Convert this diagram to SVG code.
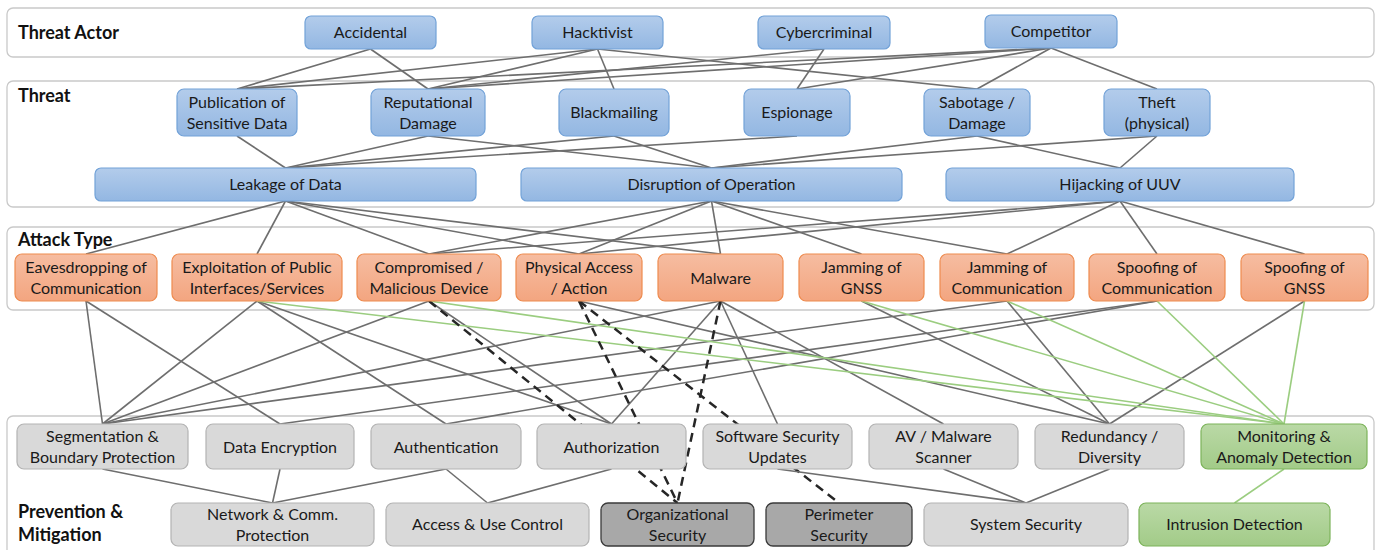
<svg xmlns="http://www.w3.org/2000/svg" width="1377" height="550" viewBox="0 0 1377 550">
<defs>
<linearGradient id="gb" x1="0" y1="0" x2="0" y2="1"><stop offset="0" stop-color="#b3cceb"/><stop offset="1" stop-color="#93b7e2"/></linearGradient>
<linearGradient id="go" x1="0" y1="0" x2="0" y2="1"><stop offset="0" stop-color="#f6bda1"/><stop offset="1" stop-color="#f3a580"/></linearGradient>
<linearGradient id="gg" x1="0" y1="0" x2="0" y2="1"><stop offset="0" stop-color="#bad9a6"/><stop offset="1" stop-color="#a2cb88"/></linearGradient>
<style>
.frame{fill:#fff;stroke:#c9c9c9;stroke-width:1.3}
.blue{fill:url(#gb);stroke:#72a2d8;stroke-width:1.2}
.orange{fill:url(#go);stroke:#ee8b4f;stroke-width:1.2}
.gray{fill:#d9d9d9;stroke:#b3b3b3;stroke-width:1.2}
.dark{fill:#a8a8a8;stroke:#3a3a3a;stroke-width:1.3}
.green{fill:url(#gg);stroke:#7cb35a;stroke-width:1.2}
text{font-family:Lato,"Liberation Sans",sans-serif;font-size:16px;fill:#1a1a1a;text-anchor:middle}
text.lbl{font-weight:bold;font-size:18px;text-anchor:start;fill:#111}
.c line{stroke:#6e6e6e;stroke-width:1.6}
.c line.g{stroke:#9bcd80;stroke-width:1.6}
.c line.d{stroke:#262626;stroke-width:2.5;stroke-dasharray:9 6}
</style>
</defs>

<g id="frames">
<rect class="frame" x="7" y="8" width="1367" height="49" rx="6"/>
<rect class="frame" x="7" y="81" width="1367" height="126" rx="6"/>
<rect class="frame" x="7" y="227" width="1367" height="83" rx="6"/>
<rect class="frame" x="7" y="416" width="1367" height="150" rx="6"/>
<text class="lbl" x="18" y="39">Threat Actor</text>
<text class="lbl" x="18" y="102">Threat</text>
<text class="lbl" x="18" y="246">Attack Type</text>
<text class="lbl" x="18" y="518">Prevention &amp;</text>
<text class="lbl" x="18" y="541">Mitigation</text>
</g>

<g id="connectors" class="c">
<!-- Threat Actor -> Threat -->
<line x1="370.5" y1="49" x2="237" y2="89"/>
<line x1="370.5" y1="49" x2="428" y2="89"/>
<line x1="597.5" y1="49" x2="237" y2="89"/>
<line x1="597.5" y1="49" x2="428" y2="89"/>
<line x1="597.5" y1="49" x2="614" y2="89"/>
<line x1="597.5" y1="49" x2="977" y2="89"/>
<line x1="824" y1="49" x2="428" y2="89"/>
<line x1="824" y1="49" x2="797" y2="89"/>
<line x1="1051" y1="48" x2="237" y2="89"/>
<line x1="1051" y1="48" x2="428" y2="89"/>
<line x1="1051" y1="48" x2="797" y2="89"/>
<line x1="1051" y1="48" x2="977" y2="89"/>
<line x1="1051" y1="48" x2="1157" y2="89"/>
<!-- Threat -> second row -->
<line x1="237" y1="136" x2="285.5" y2="168"/>
<line x1="428" y1="136" x2="285.5" y2="168"/>
<line x1="428" y1="136" x2="711.5" y2="168"/>
<line x1="614" y1="136" x2="285.5" y2="168"/>
<line x1="614" y1="136" x2="711.5" y2="168"/>
<line x1="797" y1="136" x2="285.5" y2="168"/>
<line x1="977" y1="136" x2="711.5" y2="168"/>
<line x1="977" y1="136" x2="1120" y2="168"/>
<line x1="1157" y1="136" x2="711.5" y2="168"/>
<line x1="1157" y1="136" x2="1120" y2="168"/>
<!-- second row -> Attack Type -->
<line x1="285.5" y1="201" x2="86" y2="254"/>
<line x1="285.5" y1="201" x2="257" y2="254"/>
<line x1="285.5" y1="201" x2="429" y2="254"/>
<line x1="285.5" y1="201" x2="579" y2="254"/>
<line x1="285.5" y1="201" x2="720.5" y2="254"/>
<line x1="711.5" y1="201" x2="429" y2="254"/>
<line x1="711.5" y1="201" x2="579" y2="254"/>
<line x1="711.5" y1="201" x2="720.5" y2="254"/>
<line x1="711.5" y1="201" x2="861.5" y2="254"/>
<line x1="711.5" y1="201" x2="1007" y2="254"/>
<line x1="1120" y1="201" x2="429" y2="254"/>
<line x1="1120" y1="201" x2="579" y2="254"/>
<line x1="1120" y1="201" x2="1007" y2="254"/>
<line x1="1120" y1="201" x2="1157" y2="254"/>
<line x1="1120" y1="201" x2="1304.5" y2="254"/>
<!-- Attack Type -> Prevention (gray) -->
<line x1="86" y1="301" x2="102.5" y2="424"/>
<line x1="86" y1="301" x2="280" y2="424"/>
<line x1="257" y1="301" x2="102.5" y2="424"/>
<line x1="257" y1="301" x2="446" y2="424"/>
<line x1="257" y1="301" x2="611.5" y2="424"/>
<line x1="429" y1="301" x2="102.5" y2="424"/>
<line x1="429" y1="301" x2="611.5" y2="424"/>
<line x1="579" y1="301" x2="1109.5" y2="424"/>
<line x1="720.5" y1="301" x2="102.5" y2="424"/>
<line x1="720.5" y1="301" x2="611.5" y2="424"/>
<line x1="720.5" y1="301" x2="777.5" y2="424"/>
<line x1="720.5" y1="301" x2="943.5" y2="424"/>
<line x1="861.5" y1="301" x2="1109.5" y2="424"/>
<line x1="1007" y1="301" x2="102.5" y2="424"/>
<line x1="1007" y1="301" x2="1109.5" y2="424"/>
<line x1="1157" y1="301" x2="280" y2="424"/>
<line x1="1157" y1="301" x2="446" y2="424"/>
<line x1="1304.5" y1="301" x2="1109.5" y2="424"/>
<!-- green -->
<line class="g" x1="257" y1="301" x2="1284" y2="424"/>
<line class="g" x1="429" y1="301" x2="1284" y2="424"/>
<line class="g" x1="861.5" y1="301" x2="1284" y2="424"/>
<line class="g" x1="1007" y1="301" x2="1284" y2="424"/>
<line class="g" x1="1157" y1="301" x2="1284" y2="424"/>
<line class="g" x1="1304.5" y1="301" x2="1284" y2="424"/>
<!-- dashed -->
<line class="d" x1="429" y1="301" x2="677.5" y2="503"/>
<line class="d" x1="579" y1="301" x2="677.5" y2="503"/>
<line class="d" x1="720.5" y1="301" x2="677.5" y2="503"/>
<line class="d" x1="579" y1="301" x2="839" y2="503"/>
<!-- Prevention row1 -> row2 -->
<line x1="102.5" y1="469" x2="272.5" y2="503"/>
<line x1="280" y1="469" x2="272.5" y2="503"/>
<line x1="446" y1="469" x2="272.5" y2="503"/>
<line x1="446" y1="469" x2="487.5" y2="503"/>
<line x1="611.5" y1="469" x2="487.5" y2="503"/>
<line x1="777.5" y1="469" x2="1026" y2="503"/>
<line x1="943.5" y1="469" x2="1026" y2="503"/>
<line x1="1109.5" y1="469" x2="1026" y2="503"/>
<line class="g" x1="1284" y1="469" x2="1234.5" y2="503"/>
</g>

<g id="n-accidental"><rect class="blue" x="305" y="16" width="131" height="33" rx="6"/><text x="370.5" y="38">Accidental</text></g>
<g id="n-hacktivist"><rect class="blue" x="532" y="16" width="131" height="33" rx="6"/><text x="597.5" y="38">Hacktivist</text></g>
<g id="n-cybercriminal"><rect class="blue" x="758" y="16" width="132" height="33" rx="6"/><text x="824" y="38">Cybercriminal</text></g>
<g id="n-competitor"><rect class="blue" x="985" y="15" width="132" height="33" rx="6"/><text x="1051" y="37">Competitor</text></g>

<g id="n-publication"><rect class="blue" x="177" y="89" width="120" height="47" rx="7"/><text x="237" y="108">Publication of</text><text x="237" y="129">Sensitive Data</text></g>
<g id="n-reputational"><rect class="blue" x="371" y="89" width="114" height="47" rx="7"/><text x="428" y="108">Reputational</text><text x="428" y="129">Damage</text></g>
<g id="n-blackmailing"><rect class="blue" x="559" y="89" width="110" height="47" rx="7"/><text x="614" y="118">Blackmailing</text></g>
<g id="n-espionage"><rect class="blue" x="744" y="89" width="106" height="47" rx="7"/><text x="797" y="118">Espionage</text></g>
<g id="n-sabotage"><rect class="blue" x="924" y="89" width="106" height="47" rx="7"/><text x="977" y="108">Sabotage /</text><text x="977" y="129">Damage</text></g>
<g id="n-theft"><rect class="blue" x="1104" y="89" width="106" height="47" rx="7"/><text x="1157" y="108">Theft</text><text x="1157" y="129">(physical)</text></g>

<g id="n-leakage"><rect class="blue" x="95" y="168" width="381" height="33" rx="6"/><text x="285.5" y="190">Leakage of Data</text></g>
<g id="n-disruption"><rect class="blue" x="521" y="168" width="381" height="33" rx="6"/><text x="711.5" y="190">Disruption of Operation</text></g>
<g id="n-hijacking"><rect class="blue" x="946" y="168" width="348" height="33" rx="6"/><text x="1120" y="190">Hijacking of UUV</text></g>

<g id="n-eavesdropping"><rect class="orange" x="15" y="254" width="142" height="47" rx="7"/><text x="86" y="273">Eavesdropping of</text><text x="86" y="294">Communication</text></g>
<g id="n-exploitation"><rect class="orange" x="172" y="254" width="170" height="47" rx="7"/><text x="257" y="273">Exploitation of Public</text><text x="257" y="294">Interfaces/Services</text></g>
<g id="n-compromised"><rect class="orange" x="357" y="254" width="144" height="47" rx="7"/><text x="429" y="273">Compromised /</text><text x="429" y="294">Malicious Device</text></g>
<g id="n-physical"><rect class="orange" x="516" y="254" width="126" height="47" rx="7"/><text x="579" y="273">Physical Access</text><text x="579" y="294">/ Action</text></g>
<g id="n-malware"><rect class="orange" x="658" y="254" width="125" height="47" rx="7"/><text x="720.5" y="284">Malware</text></g>
<g id="n-jamgnss"><rect class="orange" x="799" y="254" width="125" height="47" rx="7"/><text x="861.5" y="273">Jamming of</text><text x="861.5" y="294">GNSS</text></g>
<g id="n-jamcomm"><rect class="orange" x="940" y="254" width="134" height="47" rx="7"/><text x="1007" y="273">Jamming of</text><text x="1007" y="294">Communication</text></g>
<g id="n-spoofcomm"><rect class="orange" x="1089" y="254" width="136" height="47" rx="7"/><text x="1157" y="273">Spoofing of</text><text x="1157" y="294">Communication</text></g>
<g id="n-spoofgnss"><rect class="orange" x="1241" y="254" width="127" height="47" rx="7"/><text x="1304.5" y="273">Spoofing of</text><text x="1304.5" y="294">GNSS</text></g>

<g id="n-segmentation"><rect class="gray" x="17" y="424" width="171" height="45" rx="7"/><text x="102.5" y="442">Segmentation &amp;</text><text x="102.5" y="463">Boundary Protection</text></g>
<g id="n-dataenc"><rect class="gray" x="206" y="424" width="148" height="45" rx="7"/><text x="280" y="453">Data Encryption</text></g>
<g id="n-authentication"><rect class="gray" x="371" y="424" width="150" height="45" rx="7"/><text x="446" y="453">Authentication</text></g>
<g id="n-authorization"><rect class="gray" x="537" y="424" width="149" height="45" rx="7"/><text x="611.5" y="453">Authorization</text></g>
<g id="n-software"><rect class="gray" x="703" y="424" width="149" height="45" rx="7"/><text x="777.5" y="442">Software Security</text><text x="777.5" y="463">Updates</text></g>
<g id="n-av"><rect class="gray" x="869" y="424" width="149" height="45" rx="7"/><text x="943.5" y="442">AV / Malware</text><text x="943.5" y="463">Scanner</text></g>
<g id="n-redundancy"><rect class="gray" x="1035" y="424" width="149" height="45" rx="7"/><text x="1109.5" y="442">Redundancy /</text><text x="1109.5" y="463">Diversity</text></g>
<g id="n-monitoring"><rect class="green" x="1201" y="424" width="166" height="45" rx="7"/><text x="1284" y="442">Monitoring &amp;</text><text x="1284" y="463">Anomaly Detection</text></g>

<g id="n-network"><rect class="gray" x="171" y="503" width="203" height="43" rx="7"/><text x="272.5" y="520">Network &amp; Comm.</text><text x="272.5" y="541">Protection</text></g>
<g id="n-access"><rect class="gray" x="386" y="503" width="203" height="43" rx="7"/><text x="487.5" y="530">Access &amp; Use Control</text></g>
<g id="n-organizational"><rect class="dark" x="601" y="503" width="153" height="43" rx="7"/><text x="677.5" y="520">Organizational</text><text x="677.5" y="541">Security</text></g>
<g id="n-perimeter"><rect class="dark" x="766" y="503" width="146" height="43" rx="7"/><text x="839" y="520">Perimeter</text><text x="839" y="541">Security</text></g>
<g id="n-system"><rect class="gray" x="924" y="503" width="204" height="43" rx="7"/><text x="1026" y="530">System Security</text></g>
<g id="n-intrusion"><rect class="green" x="1139" y="503" width="191" height="43" rx="7"/><text x="1234.5" y="530">Intrusion Detection</text></g>
</svg>
